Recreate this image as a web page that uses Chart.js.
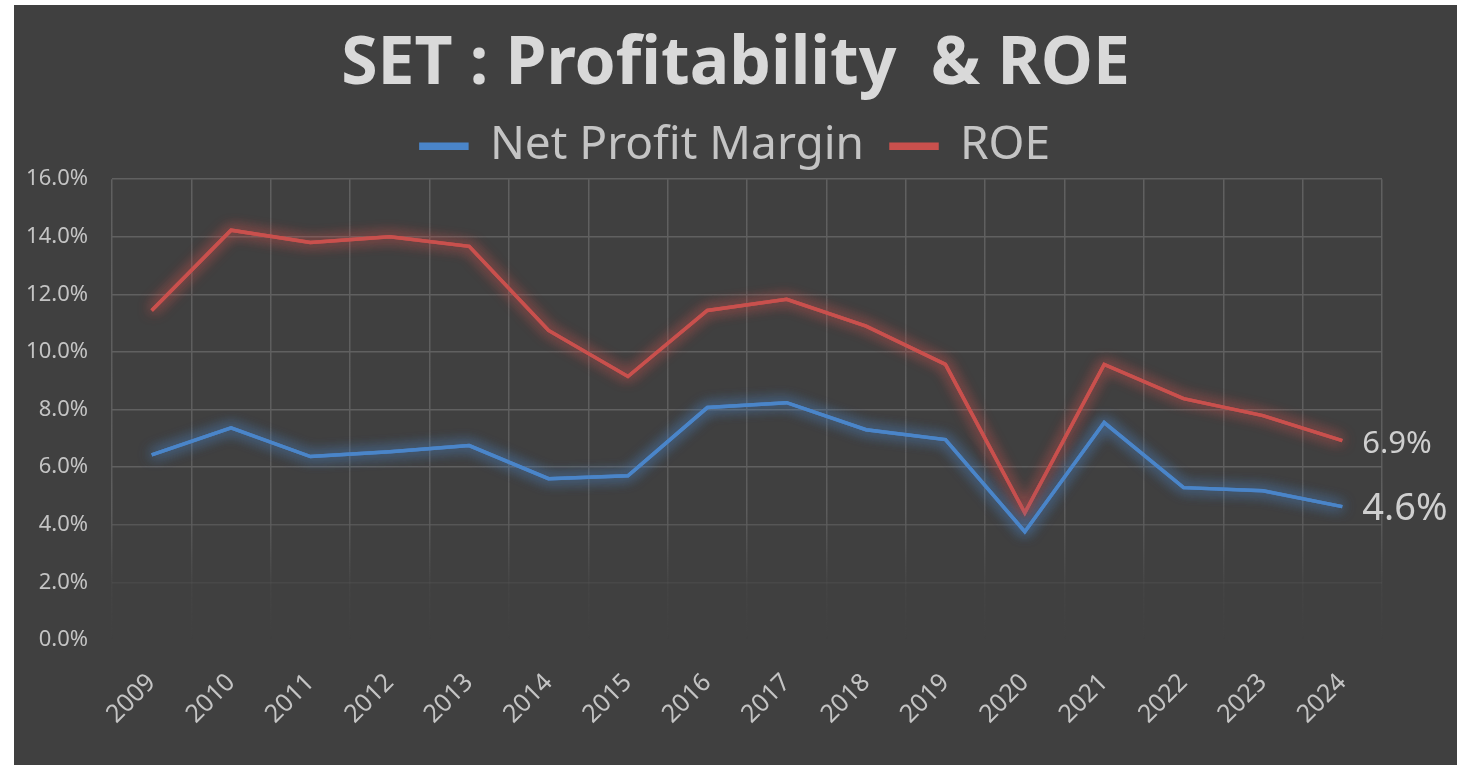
<!DOCTYPE html>
<html>
<head>
<meta charset="utf-8">
<script src="https://cdn.jsdelivr.net/npm/chart.js@4.4.1/dist/chart.umd.min.js"></script>
<style>
	html, body { margin: 0; padding: 0; background: #ffffff; }
	body { width: 1457px; height: 765px; position: relative; overflow: hidden; }
	#wrap { position: absolute; left: 14px; top: 5px; width: 1443px; height: 760px; background: #404040; }
</style>
</head>
<body>
<div id="wrap"><canvas id="setChart"></canvas></div>
<script>
const years = ['2009', '2010', '2011', '2012', '2013', '2014', '2015', '2016',
	'2017', '2018', '2019', '2020', '2021', '2022', '2023', '2024'];
const netProfitMargin = [6.43, 7.37, 6.37, 6.54, 6.75, 5.60, 5.70, 8.07,
	8.24, 7.30, 6.96, 3.76, 7.55, 5.29, 5.18, 4.63];
const roe = [11.44, 14.23, 13.80, 14.00, 13.67, 10.75, 9.15, 11.44,
	11.83, 10.90, 9.57, 4.42, 9.57, 8.38, 7.79, 6.92];
const lastLabels = ['4.6%', '6.9%'];

const blue = '#4a85c9';
const red = '#c9504d';
const fontName = '"Noto Sans", "Open Sans", sans-serif';

// soft glow under each line, like the Excel effect (line drawn twice so the shadow is stronger)
const glowPlugin = {
	id: 'glow',
	beforeDatasetDraw(chart, args) {
		const ctx = chart.ctx;
		ctx.save();
		ctx.shadowColor = args.index === 0 ? 'rgba(74, 133, 201, 0.9)' : 'rgba(201, 80, 77, 0.9)';
		ctx.shadowBlur = 14;
		args.meta.dataset.draw(ctx, chart.chartArea);
	},
	afterDatasetDraw(chart) {
		chart.ctx.restore();
	}
};

// value label next to the last point of each series
const endLabelPlugin = {
	id: 'endLabel',
	afterDatasetsDraw(chart) {
		const ctx = chart.ctx;
		const sizes = [38, 31];
		chart.data.datasets.forEach((ds, i) => {
			const meta = chart.getDatasetMeta(i);
			const pt = meta.data[meta.data.length - 1];
			ctx.save();
			ctx.font = `${sizes[i]}px ${fontName}`;
			ctx.fillStyle = '#cfcfcf';
			ctx.textAlign = 'left';
			ctx.textBaseline = 'middle';
			ctx.fillText(lastLabels[i], pt.x + 20, pt.y + 3);
			ctx.restore();
		});
	}
};

function verticalGridColor(context) {
	const chart = context.chart;
	const area = chart.chartArea;
	if (!area) {
		return '#585858';
	}
	const g = chart.ctx.createLinearGradient(0, area.top, 0, area.bottom);
	g.addColorStop(0, 'rgba(96, 96, 96, 1)');
	g.addColorStop(0.72, 'rgba(96, 96, 96, 0.9)');
	g.addColorStop(0.88, 'rgba(96, 96, 96, 0.15)');
	g.addColorStop(1, 'rgba(96, 96, 96, 0)');
	return g;
}

function horizontalGridColor(context) {
	const v = context.tick ? context.tick.value : 0;
	if (v === 0) {
		return 'rgba(96, 96, 96, 0)';
	}
	if (v === 2) {
		return 'rgba(96, 96, 96, 0.25)';
	}
	if (v === 4) {
		return 'rgba(96, 96, 96, 0.7)';
	}
	return 'rgba(96, 96, 96, 1)';
}

const ctx = document.getElementById('setChart').getContext('2d');
new Chart(ctx, {
	type: 'line',
	data: {
		labels: years,
		datasets: [
			{
				label: 'Net Profit Margin',
				data: netProfitMargin,
				borderColor: blue,
				backgroundColor: blue,
				borderWidth: 3.5,
				pointRadius: 0,
				tension: 0
			},
			{
				label: 'ROE',
				data: roe,
				borderColor: red,
				backgroundColor: red,
				borderWidth: 3.5,
				pointRadius: 0,
				tension: 0
			}
		]
	},
	options: {
		responsive: true,
		maintainAspectRatio: false,
		animation: false,
		layout: { padding: { top: 21, right: 0, left: 0, bottom: 0 } },
		plugins: {
			title: {
				display: true,
				text: 'SET : Profitability  & ROE',
				color: '#d9d9d9',
				font: { family: fontName, size: 66, weight: 'bold' },
				padding: { top: 0, bottom: -9 }
			},
			legend: {
				display: true,
				labels: {
					color: '#c4c4c4',
					font: { family: fontName, size: 46 },
					boxWidth: 46,
					boxHeight: 4,
					padding: 27
				}
			},
			tooltip: { enabled: false }
		},
		scales: {
			x: {
				offset: true,
				grid: { color: verticalGridColor, lineWidth: 1.5, drawTicks: false, offset: true },
				border: { display: false },
				ticks: {
					color: '#c4c4c4',
					font: { family: fontName, size: 25 },
					maxRotation: 45,
					minRotation: 45,
					padding: 28,
					autoSkip: false
				},
				afterFit(scale) {
					scale.height = 125;
				}
			},
			y: {
				min: 0,
				max: 16,
				grid: { color: horizontalGridColor, lineWidth: 1.5, drawTicks: false },
				border: { display: false },
				ticks: {
					stepSize: 2,
					color: '#c4c4c4',
					font: { family: fontName, size: 22 },
					padding: 24,
					callback: (v) => `${Number(v).toFixed(1)}%`
				},
				afterFit(scale) {
					scale.width = 98;
				}
			},
			// empty right-hand space where the end labels sit
			yRight: {
				position: 'right',
				display: true,
				grid: { drawOnChartArea: false, drawTicks: false },
				border: { display: false },
				ticks: { display: false },
				afterFit(scale) {
					scale.width = 75;
				}
			}
		}
	},
	plugins: [glowPlugin, endLabelPlugin]
});
</script>
</body>
</html>
